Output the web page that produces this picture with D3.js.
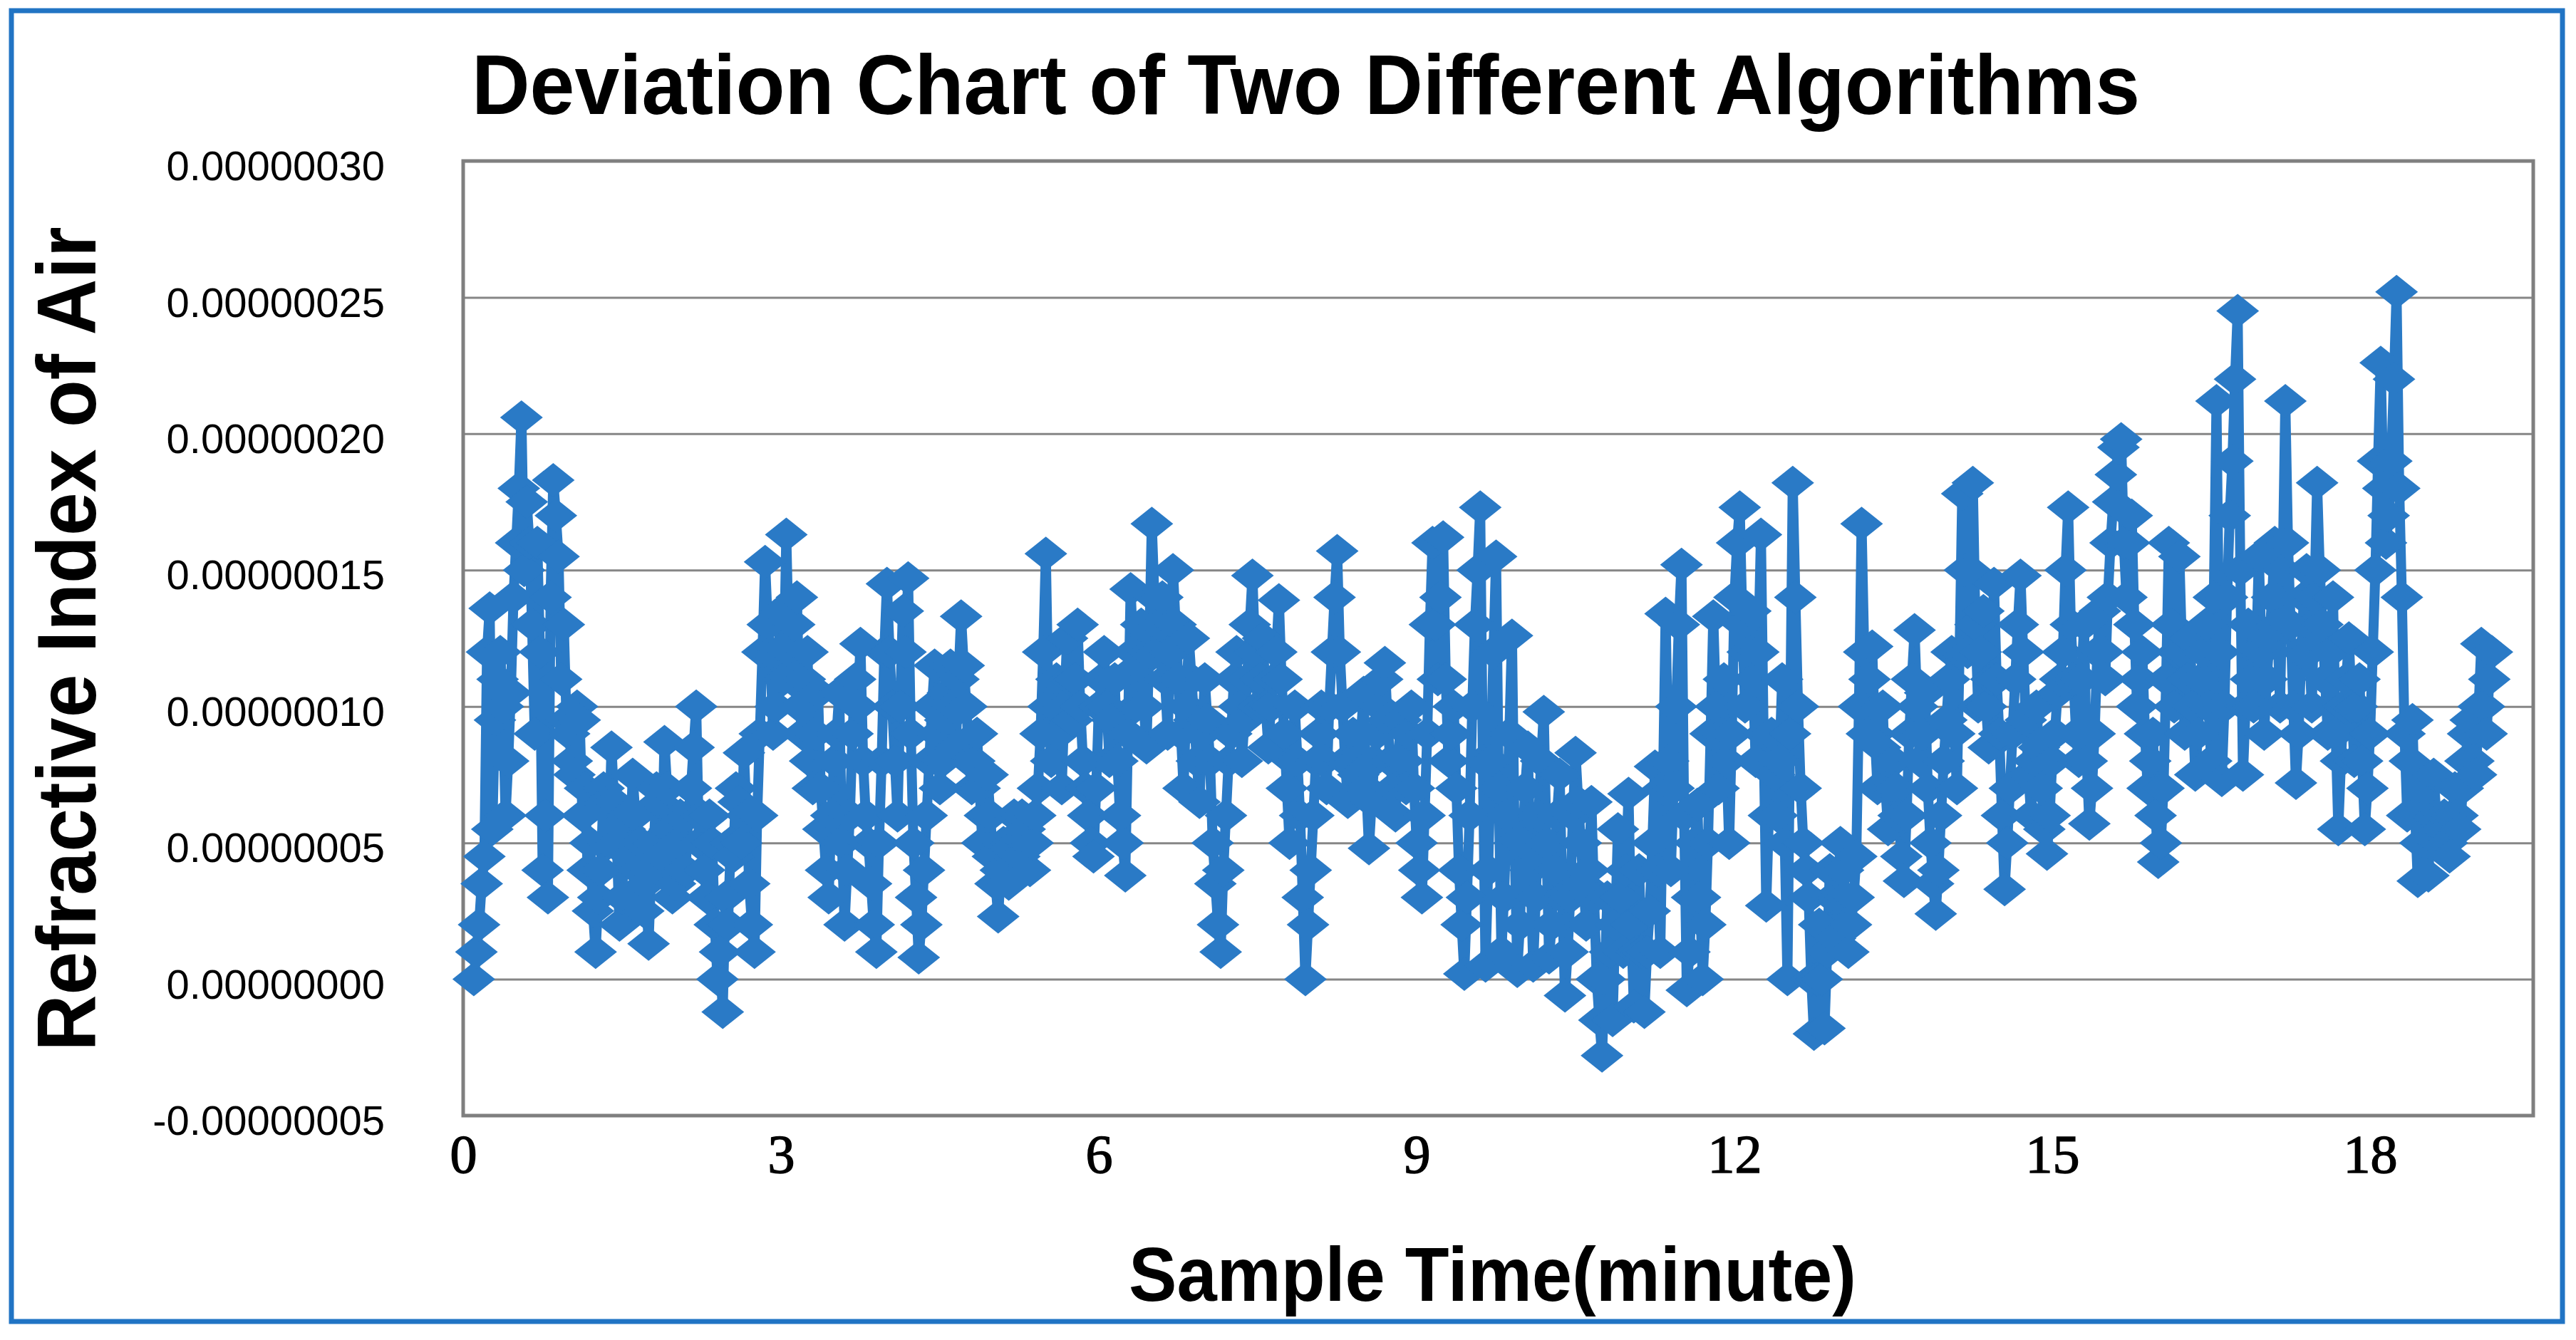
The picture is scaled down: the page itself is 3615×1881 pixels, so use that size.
<!DOCTYPE html>
<html>
<head>
<meta charset="utf-8">
<script src="https://cdn.jsdelivr.net/npm/d3@7"></script>
<style>
  html, body { margin: 0; padding: 0; background: #fff; }
  svg { display: block; }
</style>
</head>
<body>
<svg id="chart"></svg>
<script>
// deviation values, in units of 0.00000001
const UNIT = 1e-8;
// one sample every 0.025 minute (1.5 s), first sample at 0.1 minute
const sampleStart = 0.1;
const sampleStep = 0.025;

const deviation = [
  // 0.1 - 1.1 min
  0, 1, 2, 3.5, 4.5, 12, 13.6, 5.5, 9.5, 11, 12, 10, 6, 8, 10.5, 14, 16, 18, 20.6, 15,
  17.5, 16, 13, 9, 16, 12, 4, 6, 3, 14, 18.3, 17, 15.5, 11, 13, 9.5, 9, 8, 7.5, 10,
  // 1.1 - 2.1
  9.5, 6, 7, 4, 5, 2.5, 1, 3, 4, 7, 6.5, 5, 8.5, 6.5, 5, 2, 3, 5.5, 6, 4.5,
  7.5, 6, 4, 5, 2.5, 3.5, 1.3, 4, 5, 7, 6.5, 4.5, 8.7, 7, 5.5, 3, 3.5, 5, 6, 4,
  // 2.1 - 3.1
  4, 6, 7, 8.5, 10, 5, 6, 4, 3, 6, 5, 2, 0, 1, -1.2, 3, 2, 5, 4.5, 7,
  6.5, 5, 8.3, 6, 3.5, 2, 1, 6, 9, 12, 15.3, 13, 12, 9, 10, 12, 13.5, 11, 16.3, 12,
  // 3.1 - 4.1
  11, 13, 14, 10, 9, 11, 12, 8, 7, 9, 10.5, 7, 5.5, 4, 3, 6, 8, 9, 10.5, 5,
  2, 4, 6, 9, 11, 10, 12.3, 8, 6, 5, 3.5, 2, 1, 5, 8, 12, 14.5, 12, 10, 8,
  // 4.1 - 5.1
  6, 10, 13.5, 12, 14.7, 9, 5, 3, 0.8, 2, 4, 6, 8, 10, 11.5, 9, 7, 8, 9.5, 10.5,
  11.5, 10, 8.5, 11, 13.3, 11.5, 10, 8, 7, 8, 9, 7, 5, 6, 7.5, 6, 4.5, 3.5, 2.3, 4,
  // 5.1 - 6.1
  5, 4, 3.5, 5, 6, 5, 4.5, 6, 5.5, 5, 4, 5, 6, 7, 9, 12, 15.6, 10, 8, 10,
  11, 9, 7, 10, 12.5, 11, 9.5, 11, 13, 10, 8, 7, 6, 5, 4.5, 7, 10, 11, 12, 10,
  // 6.1 - 7.1
  8, 9.5, 11, 8, 6, 5, 3.8, 9, 14.3, 12, 10, 11.5, 13, 10, 8.5, 12, 16.7, 14, 12, 13,
  14, 11, 9, 12, 15, 13, 11, 9, 7, 10, 12.5, 11, 9.5, 8, 6.5, 9, 11, 9.5, 8, 5,
  // 7.1 - 8.1
  3.5, 2, 1, 4, 6, 8, 9, 11, 12, 10, 8, 9.5, 11, 13, 14.8, 12, 10, 11, 12.5, 10,
  8.5, 10, 11, 12, 13.9, 11, 9, 7, 5, 8, 10, 8, 6, 3, 0, 2, 4, 6, 8, 9,
  // 8.1 - 9.1
  10, 8, 7, 10, 12, 14, 15.7, 12, 10, 8, 6.5, 8, 9, 8, 7.5, 9, 10.5, 7, 4.8, 6.5,
  8, 9, 10, 11, 11.6, 9.5, 8, 7, 6, 8, 9.5, 8, 7, 9, 10, 7, 5, 4, 3, 6,
  // 9.1 - 10.1
  9, 13, 16, 13, 11, 14, 16.2, 11, 8, 9, 10, 7, 4, 2, 0.2, 3, 6, 10, 13, 15,
  17.3, 8, 0.5, 4, 8, 12, 15.5, 7, 1, 3, 6, 9, 12.6, 5, 0.3, 2, 5, 7, 8.5, 4,
  // 10.1 - 11.1
  0.5, 3, 6, 8, 9.8, 5, 0.8, 2, 4, 6, 7.5, 3, -0.6, 1, 3, 6, 8.3, 6.5, 5, 3.5,
  2, 4, 6.5, 3, 0, -1.5, -2.8, 0, 3, 1, -1.5, 2, 5.5, 3, 1, 4, 6.8, 2, -1, 1,
  // 11.1 - 12.1
  4, 1, -1.2, 1, 2.5, 5, 7.8, 4, 1, 7, 13.4, 8, 4, 7, 10, 13, 15.2, 6, -0.4, 1,
  3, 5, 6.4, 3, 0, 2, 5, 9, 13.3, 10, 7, 9, 11, 8, 5, 9, 14, 16, 17.3, 13,
  // 12.1 - 13.1
  10, 12, 13.5, 11, 8, 12, 16.3, 9, 2.7, 6, 9, 7.5, 6, 8, 11, 5, 0, 9, 18.2, 14,
  10, 7, 5, 4, 3, 0, -2, 0, 2, 0, -1.8, 1, 4, 3, 1.5, 3, 5, 4, 3, 1,
  // 13.1 - 14.1
  2, 3, 4.5, 10, 16.7, 12, 9, 11, 12.2, 9, 7, 8.5, 10, 7, 5.5, 7, 8, 7, 6, 4.5,
  3.6, 6, 9, 11, 12.8, 10, 8, 9, 10.5, 7, 5, 3.5, 2.4, 4, 6, 8, 9.5, 11, 12, 9,
  // 14.1 - 15.1
  7, 12, 17.8, 15, 12, 15, 18.2, 13, 10, 12, 13.5, 10, 8.5, 11, 14.5, 11, 9, 6, 3.3, 5,
  7, 9, 11, 13, 14.8, 12, 9.5, 7.5, 6, 8, 10, 8.5, 7, 5.5, 4.6, 6, 8, 9, 10.5, 11,
  // 15.1 - 16.1
  12, 15, 17.3, 13, 11, 9, 8, 11, 13, 8, 5.7, 7, 9, 12, 13.5, 12, 11, 14, 16, 17.5,
  18.5, 19.5, 19.8, 16, 14, 16, 17, 13, 10, 11, 12, 9, 7, 8, 9, 6, 4.3, 5, 7, 11,
  // 16.1 - 17.1
  16, 13, 10, 12, 15.5, 12, 9, 11, 12.5, 10, 7.5, 9, 11, 12, 13, 10, 8, 14, 21.2, 12,
  7.3, 10, 14, 17, 19, 22, 24.5, 15, 7.5, 10, 13, 11, 10, 12, 15.5, 12, 9, 11, 12.5, 14,
  // 17.1 - 18.1
  16, 13, 10, 15, 21.2, 16, 13, 10, 7.2, 9, 12, 14, 15, 12, 10, 14, 18.2, 15, 13, 11,
  9, 12, 14, 9, 5.5, 8, 10, 11, 12.5, 10, 8, 10, 11, 8, 5.5, 7, 9, 12, 15, 19,
  // 18.1 - 19.15
  22.6, 18, 16, 17, 19, 22, 25.2, 18, 14, 9, 6, 8, 9.5, 6, 3.6, 5, 7, 5, 3.8, 6,
  7.5, 6, 5, 5.5, 6, 5, 4.5, 6, 7, 6, 5.5, 7, 8, 9, 9.5, 8, 7.5, 10, 12.3, 10,
  9, 11, 12
];

const yTicks = [-5, 0, 5, 10, 15, 20, 25, 30];
const xTicks = [0, 3, 6, 9, 12, 15, 18];

const chartTitle = "Deviation Chart of Two Different Algorithms";
const xTitle = "Sample Time(minute)";
const yTitle = "Refractive Index of Air";

const width = 3615;
const height = 1881;
const plot = { left: 650, right: 3555, top: 226, bottom: 1566 };
const blue = "#2a7ac6";
const titleFont = "'Liberation Sans Narrow', 'Liberation Sans', Arial, sans-serif";

const svg = d3.select("#chart")
    .attr("width", width)
    .attr("height", height)
    .attr("viewBox", [0, 0, width, height])
    .style("background", "#fff");

const x = d3.scaleLinear()
    .domain([0, 19.54])
    .range([plot.left, plot.right]);

const y = d3.scaleLinear()
    .domain([-5, 30])
    .range([plot.bottom, plot.top]);

// outer frame
svg.append("rect")
    .attr("x", 16)
    .attr("y", 15)
    .attr("width", 3580)
    .attr("height", 1840)
    .attr("fill", "none")
    .attr("stroke", "#2174c4")
    .attr("stroke-width", 7);

// gridlines
svg.append("g")
    .attr("transform", `translate(${plot.left},0)`)
    .call(d3.axisLeft(y).tickValues(yTicks).tickSize(-(plot.right - plot.left)).tickFormat(""))
    .call(g => g.select(".domain").remove())
    .call(g => g.selectAll("line").attr("stroke", "#868686").attr("stroke-width", 3));

// plot frame
svg.append("rect")
    .attr("x", plot.left)
    .attr("y", plot.top)
    .attr("width", plot.right - plot.left)
    .attr("height", plot.bottom - plot.top)
    .attr("fill", "none")
    .attr("stroke", "#7f7f7f")
    .attr("stroke-width", 5);

// y tick labels
svg.append("g")
    .attr("transform", `translate(540,0)`)
    .call(d3.axisLeft(y).tickValues(yTicks).tickSize(0).tickPadding(0)
        .tickFormat(d => (d * UNIT).toFixed(8)))
    .call(g => g.select(".domain").remove())
    .call(g => g.selectAll("text")
        .attr("dy", "0.46em")
        .attr("fill", "#000")
        .style("font-family", "'Liberation Sans', Arial, sans-serif")
        .style("font-size", "58px"));

// x tick labels
svg.append("g")
    .attr("transform", `translate(0,${plot.bottom})`)
    .call(d3.axisBottom(x).tickValues(xTicks).tickSize(0).tickFormat(d3.format("d")))
    .call(g => g.select(".domain").remove())
    .call(g => g.selectAll("text")
        .attr("y", 80)
        .attr("dy", null)
        .attr("fill", "#000")
        .attr("stroke", "#000")
        .attr("stroke-width", 1.5)
        .style("font-family", "'Liberation Serif', 'Times New Roman', serif")
        .style("font-size", "76px"));

// series
const timeOf = i => sampleStart + i * sampleStep;

const line = d3.line()
    .x((d, i) => x(timeOf(i)))
    .y(d => y(d));

svg.append("path")
    .datum(deviation)
    .attr("d", line)
    .attr("fill", "none")
    .attr("stroke", blue)
    .attr("stroke-width", 14)
    .attr("stroke-linejoin", "round");

svg.append("g")
    .selectAll("path")
    .data(deviation)
    .join("path")
    .attr("transform", (d, i) => `translate(${x(timeOf(i))},${y(d)})`)
    .attr("d", "M0,-24L30,0L0,24L-30,0Z")
    .attr("fill", blue);

// titles
svg.append("text")
    .attr("x", 662)
    .attr("y", 160)
    .attr("textLength", 2341)
    .attr("lengthAdjust", "spacingAndGlyphs")
    .style("font-family", titleFont)
    .style("font-weight", "bold")
    .style("font-size", "118px")
    .text(chartTitle);

svg.append("text")
    .attr("x", 1584)
    .attr("y", 1826)
    .attr("textLength", 1021)
    .attr("lengthAdjust", "spacingAndGlyphs")
    .style("font-family", titleFont)
    .style("font-weight", "bold")
    .style("font-size", "108px")
    .text(xTitle);

svg.append("text")
    .attr("transform", "translate(134,897) rotate(-90)")
    .attr("text-anchor", "middle")
    .attr("textLength", 1157)
    .attr("lengthAdjust", "spacingAndGlyphs")
    .style("font-family", "'Liberation Sans', Arial, sans-serif")
    .style("font-weight", "bold")
    .style("font-size", "117px")
    .text(yTitle);
</script>
</body>
</html>
